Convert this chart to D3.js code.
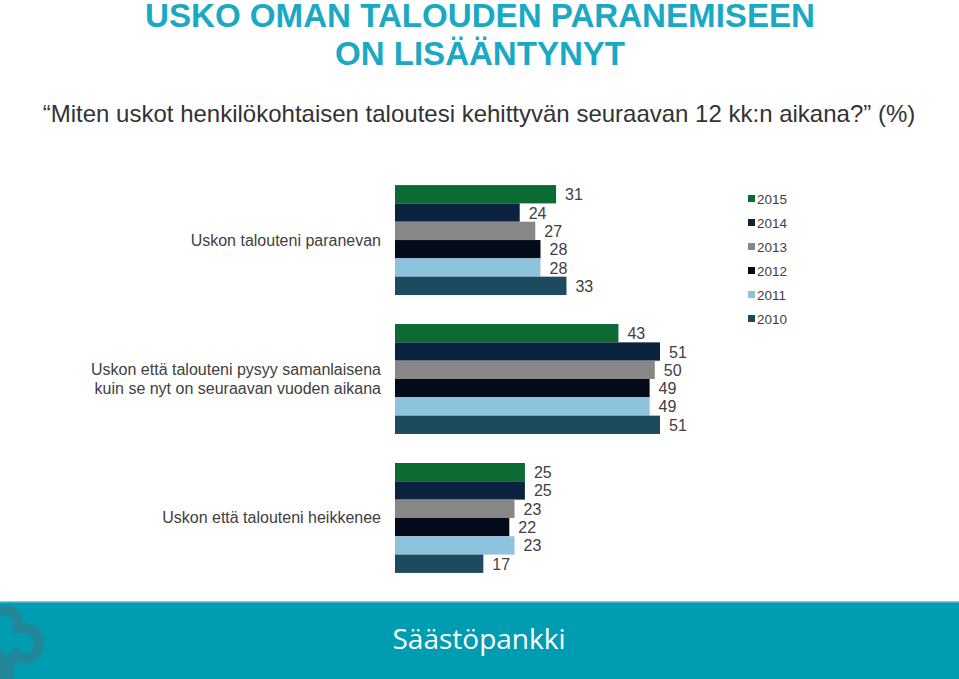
<!DOCTYPE html>
<html>
<head>
<meta charset="utf-8">
<script src="https://cdn.jsdelivr.net/npm/d3@7"></script>
<style>
  html, body { margin: 0; padding: 0; background: #fff; }
  #chart { width: 959px; height: 679px; }
</style>
</head>
<body>
<div id="chart"></div>
<script>
// categories (top to bottom), each label may span several lines
const categories = [
    ["Uskon talouteni paranevan"],
    ["Uskon että talouteni pysyy samanlaisena", "kuin se nyt on seuraavan vuoden aikana"],
    ["Uskon että talouteni heikkenee"]
];
const years = ["2015", "2014", "2013", "2012", "2011", "2010"];
const yearColors = ["#0b6b33", "#0c2340", "#878787", "#030a1a", "#8dc3dc", "#1c4a5e"];

// values per year, in category order
const values2015 = [31, 43, 25];
const values2014 = [24, 51, 25];
const values2013 = [27, 50, 23];
const values2012 = [28, 49, 22];
const values2011 = [28, 49, 23];
const values2010 = [33, 51, 17];
const seriesValues = [values2015, values2014, values2013, values2012, values2011, values2010];

const width = 959, height = 679;

const svg = d3.select("#chart")
    .append("svg")
    .attr("width", width)
    .attr("height", height);

// title (condensed look: squeeze bold text into the reference width)
const titleFont = "'Liberation Sans Narrow', 'Arial Narrow', 'Liberation Sans', sans-serif";
svg.append("text")
    .attr("x", 480).attr("y", 27)
    .attr("text-anchor", "middle")
    .attr("font-family", titleFont)
    .attr("font-weight", "bold")
    .attr("font-size", "33px")
    .attr("fill", "#19a9c4")
    .attr("textLength", 670)
    .attr("lengthAdjust", "spacingAndGlyphs")
    .text("USKO OMAN TALOUDEN PARANEMISEEN");
svg.append("text")
    .attr("x", 480).attr("y", 65)
    .attr("text-anchor", "middle")
    .attr("font-family", titleFont)
    .attr("font-weight", "bold")
    .attr("font-size", "33px")
    .attr("fill", "#19a9c4")
    .attr("textLength", 290)
    .attr("lengthAdjust", "spacingAndGlyphs")
    .text("ON LISÄÄNTYNYT");

svg.append("text")
    .attr("x", 479).attr("y", 122)
    .attr("text-anchor", "middle")
    .attr("font-family", "'Liberation Sans', Arial, sans-serif")
    .attr("font-size", "24px")
    .attr("fill", "#333")
    .text("\u201cMiten uskot henkilökohtaisen taloutesi kehittyvän seuraavan 12 kk:n aikana?\u201d (%)");

// scales
const x = d3.scaleLinear()
    .domain([0, 51])
    .range([395, 660]);

const y = d3.scaleBand()
    .domain(d3.range(categories.length))
    .range([170.5, 587.5])
    .paddingInner(0.209)
    .paddingOuter(0.105);

const yInner = d3.scaleBand()
    .domain(d3.range(years.length))
    .range([0, y.bandwidth()]);

const labelFont = "'Liberation Sans', Arial, sans-serif";

// bars
const groups = svg.append("g")
    .selectAll("g")
    .data(categories)
    .join("g")
    .attr("transform", (d, i) => `translate(0,${y(i)})`);

groups.each(function (cat, ci) {
    const g = d3.select(this);
    const rows = seriesValues.map((vals, si) => ({ si, v: vals[ci] }));

    g.selectAll("rect")
        .data(rows)
        .join("rect")
        .attr("x", x(0))
        .attr("y", d => yInner(d.si))
        .attr("width", d => x(d.v) - x(0))
        .attr("height", yInner.bandwidth())
        .attr("fill", d => yearColors[d.si]);

    g.selectAll("text.val")
        .data(rows)
        .join("text")
        .attr("class", "val")
        .attr("x", d => x(d.v) + 9)
        .attr("y", d => yInner(d.si) + yInner.bandwidth() / 2 + 6)
        .attr("font-family", labelFont)
        .attr("font-size", "16px")
        .attr("fill", "#404040")
        .text(d => d.v);

    // category label
    const lineH = 18.5;
    const cy = y.bandwidth() / 2 - (cat.length - 1) * lineH / 2 + 5.5;
    g.append("text")
        .attr("text-anchor", "end")
        .attr("font-family", labelFont)
        .attr("font-size", "16px")
        .attr("fill", "#404040")
        .selectAll("tspan")
        .data(cat)
        .join("tspan")
        .attr("x", 381)
        .attr("y", (d, i) => cy + i * lineH)
        .text(d => d);
});

// legend
const legend = svg.append("g")
    .selectAll("g")
    .data(years)
    .join("g")
    .attr("transform", (d, i) => `translate(748,${199 + i * 24})`);

legend.append("rect")
    .attr("x", 0).attr("y", -4)
    .attr("width", 7).attr("height", 7)
    .attr("fill", (d, i) => yearColors[i]);

legend.append("text")
    .attr("x", 9).attr("y", 4.5)
    .attr("font-family", labelFont)
    .attr("font-size", "13.5px")
    .attr("fill", "#404040")
    .text(d => d);

// footer band
svg.append("rect")
    .attr("x", 0).attr("y", 602)
    .attr("width", width).attr("height", height - 602)
    .attr("fill", "#009cb1");
svg.append("rect")
    .attr("x", 0).attr("y", 601)
    .attr("width", width).attr("height", 1.5)
    .attr("fill", "#7fcad6");

// logo shape on the left
svg.append("path")
    .attr("d", "M-6,614 C6,606 20,612 18,628 C32,626 42,636 38,648 C34,660 22,662 16,654 C8,662 6,672 10,684")
    .attr("fill", "none")
    .attr("stroke", "#23879a")
    .attr("stroke-width", 10)
    .attr("stroke-linecap", "round");
svg.append("path")
    .attr("d", "M-4,650 C4,656 6,668 2,684")
    .attr("fill", "none")
    .attr("stroke", "#23879a")
    .attr("stroke-width", 8);

svg.append("text")
    .attr("x", 479).attr("y", 649)
    .attr("text-anchor", "middle")
    .attr("font-family", "'Open Sans', 'Noto Sans', sans-serif")
    .attr("font-size", "28px")
    .attr("fill", "#fff")
    .text("Säästöpankki");
</script>
</body>
</html>
